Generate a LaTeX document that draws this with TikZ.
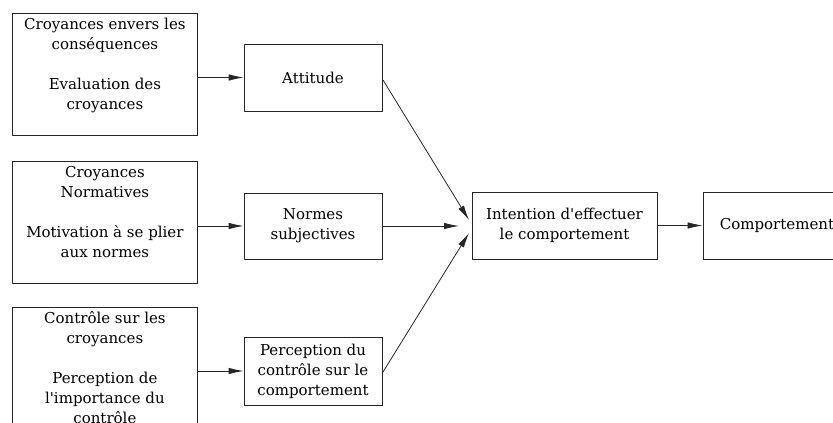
\documentclass[tikz,border=0pt]{standalone}
\usepackage{fontspec}
\setmainfont{DejaVu Serif}[Ligatures=TeXOff]
\usetikzlibrary{arrows.meta}
\newcommand{\firstline}{\rule{0pt}{16.5pt}}
\begin{document}
\begin{tikzpicture}[x=1pt,y=-1pt,
  every node/.style={font=\fontsize{15}{20}\selectfont},
  box/.style={draw=black!85,line width=0.8pt,inner sep=0pt,align=center},
  bigbox/.style={box,anchor=north west},
  arr/.style={draw=black!85,line width=0.8pt,-{Latex[length=15pt,width=6.5pt]}}]
\useasboundingbox (0,0) rectangle (833,423);
\clip (0,0) rectangle (833,423);
% left boxes
\node[bigbox] (b1) at (12,13) {\parbox[c][122pt][t]{185pt}{\centering\firstline Croyances envers les\\ conséquences\\[\baselineskip] Evaluation des\\ croyances}};
\node[bigbox] (b2) at (12,161) {\parbox[c][122pt][t]{185pt}{\centering\firstline Croyances\\ Normatives\\[\baselineskip] Motivation à se plier\\ aux normes}};
\node[bigbox] (b3) at (12,307) {\parbox[c][133pt][t]{185pt}{\centering\firstline Contrôle sur les\\ croyances\\[\baselineskip] Perception de\\ l'importance du\\ contrôle}};
% middle boxes
\node[box,minimum width=138pt,minimum height=67pt] (att) at (313,77.5) {Attitude};
\node[box,minimum width=138pt,minimum height=66pt] (nor) at (313,226) {Normes\\ subjectives};
\node[box,minimum width=138pt,minimum height=68pt] (per) at (313,371) {Perception du\\ contrôle sur le\\ comportement};
% right boxes
\node[box,minimum width=185pt,minimum height=67pt] (int) at (564.5,225.5) {Intention d'effectuer\\ le comportement};
\node[box,minimum width=148pt,minimum height=67pt] (com) at (777,225.5) {Comportement};
% arrow end points
\coordinate (jt) at (469,220);
\coordinate (jm) at (459,226);
\coordinate (jb) at (469,233);
\coordinate (st) at (383,80);
\coordinate (sb) at (383,372);
% connectors
\draw[arr] (b1.east |- att.west) -- (att.west);
\draw[arr] (b2.east |- nor.west) -- (nor.west);
\draw[arr] (b3.east |- per.west) -- (per.west);
\draw[arr] (st) -- (jt);
\draw[arr] (nor.east) -- (jm);
\draw[arr] (sb) -- (jb);
\draw[arr] (int.east) -- (com.west);
\end{tikzpicture}
\end{document}
